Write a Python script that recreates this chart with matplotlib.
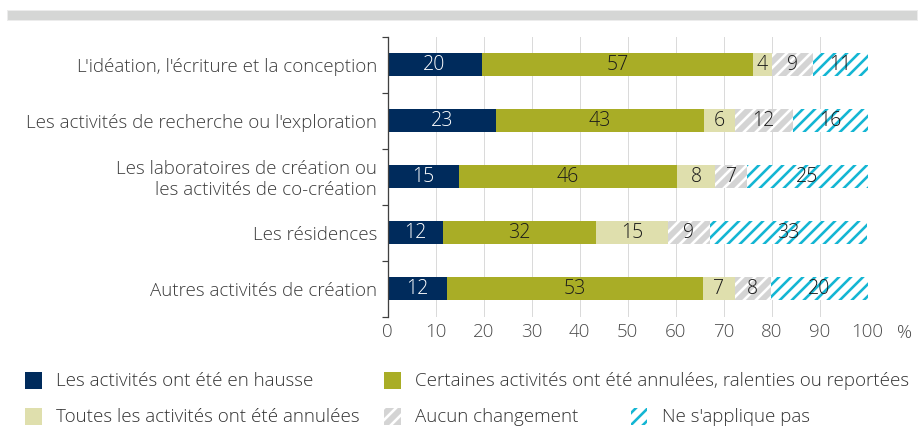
import matplotlib
matplotlib.use("Agg")
import matplotlib.pyplot as plt
from matplotlib.patches import Rectangle
import numpy as np

# ---------------- data ----------------
categories = [
    "L'idéation, l'écriture et la conception",
    "Les activités de recherche ou l'exploration",
    "Les laboratoires de création ou\nles activités de co-création",
    "Les résidences",
    "Autres activités de création",
]
series_names = [
    "Les activités ont été en hausse",
    "Certaines activités ont été annulées, ralenties ou reportées",
    "Toutes les activités ont été annulées",
    "Aucun changement",
    "Ne s'applique pas",
]
hausse = [19.6, 22.6, 14.8, 11.6, 12.3]
certaines = [56.6, 43.4, 45.6, 31.8, 53.4]
toutes = [3.8, 6.4, 7.9, 15.0, 6.6]
aucun = [8.7, 12.0, 6.6, 8.8, 7.6]
ne_sapplique = [11.3, 15.6, 25.1, 32.8, 20.1]
x_ticks = [0, 10, 20, 30, 40, 50, 60, 70, 80, 90, 100]

series_values = [hausse, certaines, toutes, aucun, ne_sapplique]

# ---------------- styles ----------------
DPI = 144
W, H = 922, 427
def px(v):
    return v * 72.0 / DPI

styles = [
    dict(facecolor="#002b5c", edgecolor="#002b5c", hatch=None, txt="white"),
    dict(facecolor="#a9ad26", edgecolor="#a9ad26", hatch=None, txt="#1a1a1a"),
    dict(facecolor="#dfdfad", edgecolor="#dfdfad", hatch=None, txt="#1a1a1a"),
    dict(facecolor="#d4d4d4", edgecolor="white", hatch="////", txt="#1a1a1a"),
    dict(facecolor="white", edgecolor="#14b6d3", hatch="////", txt="#1a1a1a"),
]

plt.rcParams["font.family"] = ["Open Sans", "DejaVu Sans"]
plt.rcParams["font.weight"] = "light"
plt.rcParams["hatch.linewidth"] = px(2.6)

FS = 18.7
fig = plt.figure(figsize=(W / DPI, H / DPI), dpi=DPI)
ax_left, ax_right = 387.5, 867.5
ax_top, ax_bottom = 36.5, 316.5
ax = fig.add_axes([ax_left / W, (H - ax_bottom) / H,
                   (ax_right - ax_left) / W, (ax_bottom - ax_top) / H])

y = np.arange(len(categories))
left = np.zeros(len(categories))
for vals, st in zip(series_values, styles):
    vals = np.array(vals)
    bars = ax.barh(y, vals, left=left, height=0.4,
                   facecolor=st["facecolor"], edgecolor=st["edgecolor"],
                   hatch=st["hatch"], linewidth=0, zorder=2)
    ax.bar_label(bars, labels=[f"{v:.0f}" for v in vals], label_type="center",
                 color=st["txt"], fontsize=px(19.5), zorder=3)
    left += vals

ax.set_xlim(0, 100)
ax.set_ylim(len(categories) - 0.5, -0.5)
ax.set_xticks(x_ticks)
ax.set_xticklabels([str(t) for t in x_ticks])
ax.set_yticks(y)
ax.set_yticklabels(categories)
ax.set_yticks(np.arange(len(categories) + 1) - 0.5, minor=True)

ax.tick_params(axis="x", length=0, pad=px(6.5), labelsize=px(FS), labelcolor="#4a4a4a")
ax.tick_params(axis="y", which="major", length=0, pad=px(10.5), labelsize=px(FS),
               labelcolor="#3c3c3c")
ax.tick_params(axis="y", which="minor", length=px(6), width=px(1.2), color="#404040",
               direction="out")

for s in ["top", "right", "bottom"]:
    ax.spines[s].set_visible(False)
ax.spines["left"].set_color("#404040")
ax.spines["left"].set_linewidth(px(1.3))
ax.spines["left"].set_zorder(4)

ax.grid(axis="x", color="#dadada", linewidth=px(1.0), zorder=0)
ax.grid(axis="y", visible=False)
ax.set_axisbelow(True)

fig.text(905 / W, (H - 333) / H, "%", ha="center", va="center",
         fontsize=px(FS), color="#4a4a4a")

# top grey band
fig.add_artist(Rectangle((7 / W, (H - 20) / H), 910 / W, 10 / H,
                         transform=fig.transFigure, facecolor="#d5d6d5",
                         edgecolor="#ececec", linewidth=px(1)))

# legend (manual layout)
legend_pos = [(25, 380.7), (384.3, 380.7), (25, 416.7), (384.3, 416.7), (630.7, 416.7)]
sq = 16.7
for name, st, (lx, ly) in zip(series_names, styles, legend_pos):
    fig.add_artist(Rectangle((lx / W, (H - ly - sq / 2) / H), sq / W, sq / H,
                             transform=fig.transFigure,
                             facecolor=st["facecolor"], edgecolor=st["edgecolor"],
                             hatch=st["hatch"], linewidth=0))
    fig.text((lx + 31) / W, (H - ly) / H, name, ha="left", va="center",
             fontsize=px(FS), color="#333333")

fig.savefig("out.png", dpi=DPI)
